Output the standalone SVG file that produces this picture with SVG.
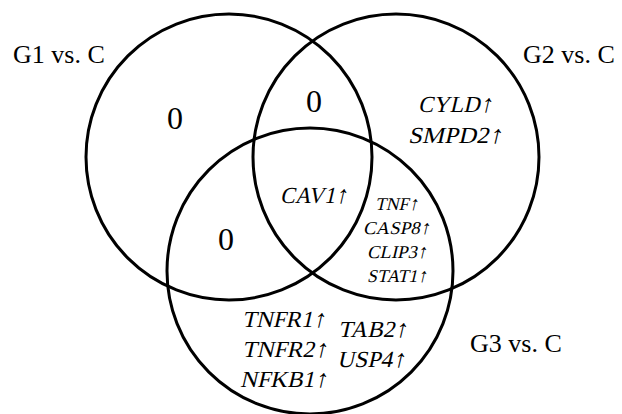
<svg xmlns="http://www.w3.org/2000/svg" width="622" height="414" viewBox="0 0 622 414">
<style>
.c{fill:none;stroke:#000;stroke-width:3}
text{font-family:"Liberation Serif","Times New Roman",serif;fill:#000}
.lbl{font-size:26px}
.z{font-size:32px;text-anchor:middle}
.g{font-size:23px}
.s{font-size:18px}
.g .a{font-size:25px}
.s .a{font-size:19.5px}
</style>
<rect width="622" height="414" fill="#fff"/>
<g id="setG1"><circle class="c" cx="229" cy="157" r="143"/><text class="lbl" x="13" y="63">G1 vs. C</text></g>
<g id="setG2"><circle class="c" cx="396" cy="157" r="143"/><text class="lbl" x="523" y="63">G2 vs. C</text></g>
<g id="setG3"><circle class="c" cx="310" cy="271" r="143"/><text class="lbl" x="470" y="352">G3 vs. C</text></g>
<g id="onlyG1"><text class="z" x="175" y="129">0</text></g>
<g id="G1G2"><text class="z" x="314" y="112">0</text></g>
<g id="G1G3"><text class="z" x="226" y="250">0</text></g>
<g id="all">
<text class="g" transform="translate(280 203) skewX(-13)" textLength="67" lengthAdjust="spacingAndGlyphs">CAV1<tspan class="a">↑</tspan></text>
</g>
<g id="onlyG2">
<text class="g" transform="translate(418 112) skewX(-13)" textLength="74" lengthAdjust="spacingAndGlyphs">CYLD<tspan class="a">↑</tspan></text>
<text class="g" transform="translate(408 143) skewX(-13)" textLength="94" lengthAdjust="spacingAndGlyphs">SMPD2<tspan class="a">↑</tspan></text>
</g>
<g id="G2G3">
<text class="s" transform="translate(375 210) skewX(-13)" textLength="43" lengthAdjust="spacingAndGlyphs">TNF<tspan class="a">↑</tspan></text>
<text class="s" transform="translate(363 234) skewX(-13)" textLength="67" lengthAdjust="spacingAndGlyphs">CASP8<tspan class="a">↑</tspan></text>
<text class="s" transform="translate(367 258) skewX(-13)" textLength="60" lengthAdjust="spacingAndGlyphs">CLIP3<tspan class="a">↑</tspan></text>
<text class="s" transform="translate(367 282) skewX(-13)" textLength="60" lengthAdjust="spacingAndGlyphs">STAT1<tspan class="a">↑</tspan></text>
</g>
<g id="onlyG3">
<text class="g" transform="translate(242 327) skewX(-13)" textLength="83" lengthAdjust="spacingAndGlyphs">TNFR1<tspan class="a">↑</tspan></text>
<text class="g" transform="translate(242 357) skewX(-13)" textLength="85" lengthAdjust="spacingAndGlyphs">TNFR2<tspan class="a">↑</tspan></text>
<text class="g" transform="translate(240 387) skewX(-13)" textLength="87" lengthAdjust="spacingAndGlyphs">NFKB1<tspan class="a">↑</tspan></text>
<text class="g" transform="translate(338 337) skewX(-13)" textLength="69" lengthAdjust="spacingAndGlyphs">TAB2<tspan class="a">↑</tspan></text>
<text class="g" transform="translate(337 367) skewX(-13)" textLength="68" lengthAdjust="spacingAndGlyphs">USP4<tspan class="a">↑</tspan></text>
</g>
<g id="connectors"></g>
</svg>
